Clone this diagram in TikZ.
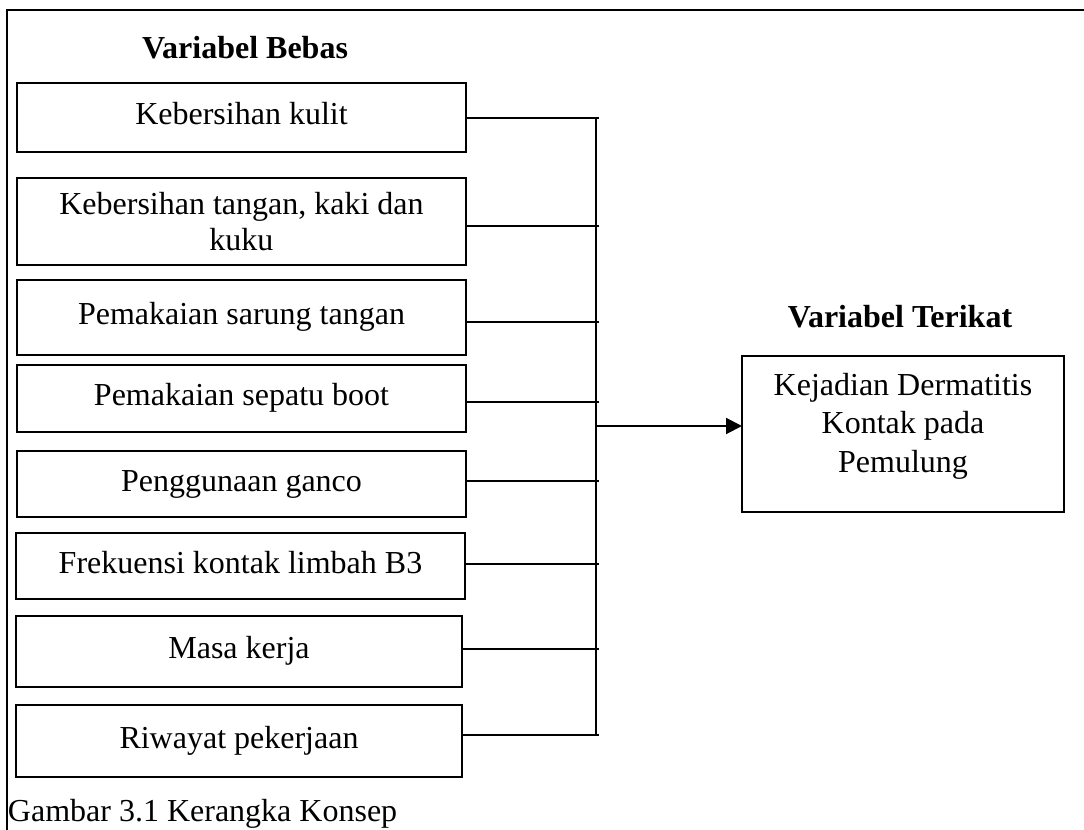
\documentclass[tikz,border=0pt]{standalone}
\usepackage{fontspec}
\setmainfont{Liberation Serif}
\usetikzlibrary{arrows.meta,calc}
\begin{document}
\begin{tikzpicture}[x=0.5pt,y=-0.5pt,line width=1pt,
  box/.style={draw,line width=1pt,inner sep=0pt,outer sep=0pt,align=center,
    minimum width=224.5pt,font=\fontsize{16}{18}\selectfont},
  onebox/.style={box,text height=11pt,text depth=4pt},
  heading/.style={inner sep=0pt,font=\fontsize{16}{18}\selectfont\bfseries},
  plain/.style={inner sep=0pt,align=center,font=\fontsize{16}{19.25}\selectfont},
  link/.style={line width=1pt},
  arrowlink/.style={line width=1pt,-{Triangle[length=8pt,width=8pt]}}]
\useasboundingbox (0,0) rectangle (1084,830);
% outer frame (top and left only)
\coordinate (frTL) at (7,10);
\coordinate (frTR) at (1084,10);
\coordinate (frBL) at (7,830);
\draw[line width=1pt] (frTR) -- (frTL) -- (frBL);

\node[heading] (hb) at (245,48) {Variabel Bebas};
\node[heading] (ht) at (900,317) {Variabel Terikat};

\node[onebox,minimum height=34.5pt] (b1) at (241.5,117.5) {Kebersihan kulit};
\node[box,minimum height=43.5pt] (b2) at (241.5,221.5) {Kebersihan tangan, kaki dan\\kuku};
\node[onebox,minimum height=37.5pt] (b3) at (241.5,317.5) {Pemakaian sarung tangan};
\node[onebox,minimum height=33.5pt] (b4) at (241.5,398.5) {Pemakaian sepatu boot};
\node[onebox,minimum height=33pt] (b5) at (241.5,484) {Penggunaan ganco};
\node[onebox,minimum height=33pt] (b6) at (240.5,566) {Frekuensi kontak limbah B3};
\node[onebox,minimum height=35.5pt,minimum width=223pt] (b7) at (239,651.5) {Masa kerja};
\node[onebox,minimum height=36pt,minimum width=223pt] (b8) at (239,741) {Riwayat pekerjaan};

\node[draw,line width=1pt,inner sep=0pt,outer sep=0pt,minimum width=161pt,minimum height=78pt] (bk) at (903,434) {};
\node[plain] (tk) at (903,426) {Kejadian Dermatitis\\Kontak pada\\Pemulung};

\node[inner sep=0pt,anchor=base west,font=\fontsize{16}{18}\selectfont] (cap) at (7,821) {Gambar 3.1 Kerangka Konsep};

% connectors
\coordinate (bus) at (596,0);
\coordinate (tick) at (599,0);
\foreach \i/\d in {1/0.5,2/4.5,3/4.5,4/3.5,5/-3,6/-2,7/-2.5,8/-6}{
  \coordinate (c\i) at ($(b\i.east)+(0,\d)$);
  \draw[link] (c\i) -- (c\i -| tick);
}
\draw[link] (c1 -| bus) -- (c8 -| bus);
\coordinate (ar) at (596,426);
\draw[arrowlink] (ar) -- (ar -| bk.west);
\end{tikzpicture}
\end{document}
